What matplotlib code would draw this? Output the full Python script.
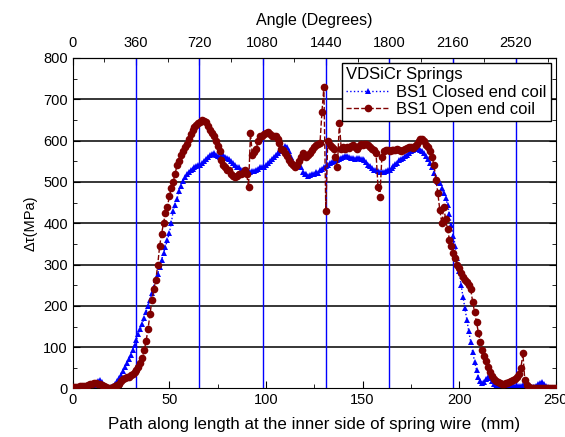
import matplotlib
matplotlib.use("Agg")
import matplotlib.pyplot as plt
import numpy as np

plt.rcParams['font.family'] = ['Liberation Sans', 'DejaVu Sans']

# path along wire (mm), one reading per mm
path_mm = np.arange(0, 251)

closed_end = [
    5, 4, 4, 3, 3, 3, 4, 4, 5, 6,
    6, 8, 12, 17, 20, 16, 8, 4, 2, 2,
    3, 5, 10, 17, 25, 33, 42, 52, 62, 72,
    80, 93, 106, 118, 131, 143, 157, 171, 186, 200,
    214, 230, 246, 262, 278, 295, 311, 327, 343, 360,
    376, 400, 430, 445, 458, 478, 490, 502, 512, 520,
    524, 528, 532, 536, 538, 540, 542, 546, 550, 555,
    560, 565, 568, 570, 566, 562, 560, 562, 565, 561,
    558, 555, 550, 545, 540, 537, 535, 530, 528, 526,
    525, 524, 525, 527, 526, 530, 532, 535, 537, 537,
    540, 545, 550, 555, 560, 565, 570, 575, 578, 583,
    588, 585, 575, 560, 548, 542, 540, 541, 535, 525,
    520, 518, 515, 516, 518, 520, 525, 522, 528, 532,
    535, 538, 540, 545, 548, 550, 552, 554, 556, 558,
    560, 562, 563, 560, 558, 558, 556, 557, 558, 556,
    555, 552, 548, 542, 538, 534, 530, 528, 526, 525,
    524, 525, 526, 528, 530, 533, 538, 543, 547, 552,
    555, 558, 562, 566, 570, 574, 578, 580, 582, 580,
    578, 575, 570, 562, 555, 545, 535, 522, 510, 500,
    497, 485, 472, 462, 445, 422, 395, 370, 345, 315,
    285, 250, 222, 195, 166, 138, 112, 88, 65, 45,
    28, 18, 14, 16, 22, 28, 25, 18, 10, 6,
    4, 3, 3, 4, 5, 6, 7, 8, 7, 6,
    5, 5, 6, 8, 10, 8, 5, 3, 3, 4,
    6, 10, 14, 16, 12, 6, 3, 2, 2, 2,
    2,
]

open_end = [
    3, 3, 4, 4, 5, 5, 6, 7, 8, 10,
    11, 13, 13, 12, 10, 8, 5, 3, 2, 2,
    2, 3, 5, 8, 12, 18, 22, 25, 27, 29,
    32, 36, 40, 45, 52, 62, 75, 92, 115, 145,
    180, 214, 240, 262, 300, 345, 375, 400, 425, 440,
    465, 485, 500, 520, 540, 550, 565, 575, 585, 593,
    605, 615, 625, 634, 638, 642, 645, 650, 648, 645,
    635, 625, 618, 610, 600, 588, 575, 553, 540, 535,
    530, 528, 520, 515, 513, 515, 520, 518, 522, 528,
    520, 488, 618, 565, 572, 580, 600, 610, 612, 615,
    618, 620, 615, 612, 610, 610, 605, 595, 580, 577,
    570, 562, 553, 545, 540, 537, 540, 550, 560, 570,
    565, 561, 565, 570, 578, 585, 590, 592, 595, 670,
    730, 430, 600, 590, 585, 580, 560, 537, 642, 580,
    585, 580, 585, 583, 588, 590, 585, 580, 588, 592,
    590, 593, 593, 590, 585, 580, 577, 570, 488, 464,
    560, 575, 578, 577, 575, 578, 577, 577, 580, 578,
    575, 578, 580, 582, 585, 585, 583, 588, 592, 598,
    603, 605, 600, 590, 585, 575, 561, 540, 505, 472,
    432, 400, 440, 410, 385, 360, 345, 327, 315, 300,
    292, 280, 270, 262, 258, 250, 240, 210, 185, 160,
    135, 112, 92, 78, 66, 52, 40, 30, 24, 18,
    15, 13, 12, 12, 13, 14, 16, 18, 20, 22,
    28, 35, 50, 85, 20, 8, 4, 2, 2, 2,
    2, 2, 2, 2, 2, 2, 2, 2, 2, 2,
    2,
]

deg_per_mm = 360 / 32.78
turn_degrees = [360, 720, 1080, 1440, 1800, 2160, 2520]
top_ticks = [0, 360, 720, 1080, 1440, 1800, 2160, 2520]

fig = plt.figure(figsize=(5.65, 4.37), dpi=100)
ax = fig.add_axes([0.1287, 0.111, 0.8549, 0.7563])

for y in range(100, 800, 100):
    ax.axhline(y, color='black', lw=1.1, zorder=1)
for d in turn_degrees:
    ax.axvline(d / deg_per_mm, color='blue', lw=1, zorder=1)

ax.plot(path_mm, closed_end, linestyle=':', color='blue', lw=1, marker='^',
        markersize=5, markeredgewidth=0, label='BS1 Closed end coil', zorder=2)
ax.plot(path_mm, open_end, linestyle='--', color='#800000', lw=1, marker='o',
        markersize=5.5, markeredgewidth=0, label='BS1 Open end coil', zorder=3)

ax.set_xlim(0, 250)
ax.set_ylim(0, 800)
ax.set_xticks(range(0, 251, 50))
ax.set_xticks(range(0, 251, 25), minor=True)
ax.set_yticks(range(0, 801, 100))
ax.set_yticks(range(0, 801, 50), minor=True)
ax.tick_params(axis='both', which='major', direction='out', length=5, labelsize=10.5)
ax.tick_params(axis='both', which='minor', direction='out', length=3)
ax.tick_params(right=True, which='both', direction='in')
ax.tick_params(axis='y', which='both', left=True)

ax.set_xlabel('Path along length at the inner side of spring wire  (mm)', fontsize=12.2, labelpad=7)
ax.set_ylabel('\u0394\u03c4(MPa)', fontsize=10.5, labelpad=4)

top = ax.secondary_xaxis('top', functions=(lambda x: x * deg_per_mm, lambda d: d / deg_per_mm))
top.set_xticks(top_ticks)
top.set_xticks(np.arange(0, 2750, 180), minor=True)
top.tick_params(which='major', direction='in', length=5, labelsize=10.5, pad=6)
top.tick_params(which='minor', direction='in', length=3)
top.set_xlabel('Angle (Degrees)', fontsize=11.5, labelpad=8)

leg = ax.legend(title='VDSiCr Springs', loc='upper right', fontsize=12, title_fontsize=12,
                frameon=True, fancybox=False, edgecolor='black', framealpha=1,
                borderaxespad=0.3, handlelength=2.6, handletextpad=0.4,
                borderpad=0.25, labelspacing=0.15)
leg._legend_box.align = 'left'
leg.get_frame().set_linewidth(1)

fig.savefig('out.png', dpi=100)
